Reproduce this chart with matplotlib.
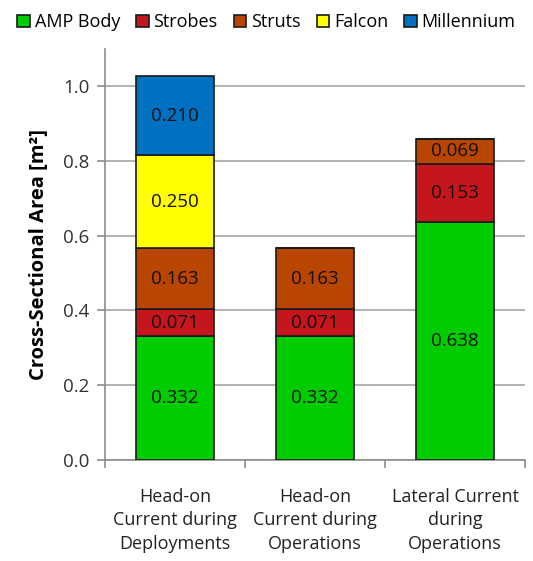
import numpy as np
import matplotlib.pyplot as plt

plt.rcParams['font.family'] = ['Open Sans', 'DejaVu Sans']

categories = ['Head-on\nCurrent during\nDeployments',
              'Head-on\nCurrent during\nOperations',
              'Lateral Current\nduring\nOperations']
components = ['AMP Body', 'Strobes', 'Struts', 'Falcon', 'Millennium']
amp_body = [0.332, 0.332, 0.638]
strobes = [0.071, 0.071, 0.153]
struts = [0.163, 0.163, 0.069]
falcon = [0.250, 0.0, 0.0]
millennium = [0.210, 0.0, 0.0]
colors = ['#00CC00', '#C4161C', '#B84500', '#FFFF00', '#0070C0']

series = [amp_body, strobes, struts, falcon, millennium]

fig = plt.figure(figsize=(5.33, 5.61), dpi=100)
ax = fig.add_axes([0.197, 0.18, 0.788, 0.733])

x = np.arange(len(categories))
bottom = np.zeros(len(categories))
for name, vals, c in zip(components, series, colors):
    vals = np.array(vals)
    ax.bar(x, vals, 0.56, bottom=bottom, color=c, edgecolor='#1a1a1a',
           linewidth=1.2, label=name, zorder=3)
    for xi, v, b in zip(x, vals, bottom):
        if v > 0:
            ax.text(xi, b + v / 2, f'{v:.3f}', ha='center', va='center',
                    fontsize=13.5, color='#111111', zorder=4)
    bottom += vals

ax.set_xlim(-0.5, 2.5)
ax.set_ylim(0, 1.1)
ax.set_yticks(np.arange(0, 1.01, 0.2))
ax.set_yticklabels([f'{v:.1f}' for v in np.arange(0, 1.01, 0.2)])
ax.yaxis.grid(True, color='#a6a6a6', linewidth=1.2, zorder=0)
ax.set_axisbelow(True)

# group separators as major ticks, category names on minor ticks
ax.set_xticks([-0.5, 0.5, 1.5, 2.5])
ax.set_xticklabels([])
ax.set_xticks(x, minor=True)
ax.set_xticklabels(categories, minor=True, fontsize=13, color='#222222',
                   linespacing=1.4)
ax.tick_params(axis='x', which='minor', length=0, pad=20)
ax.tick_params(axis='x', which='major', length=6, color='#8c8c8c', width=1.2)
ax.tick_params(axis='y', length=6, color='#8c8c8c', width=1.2,
               labelsize=13.5, labelcolor='#333333', pad=5)

for s in ['top', 'right']:
    ax.spines[s].set_visible(False)
for s in ['left', 'bottom']:
    ax.spines[s].set_color('#8c8c8c')
    ax.spines[s].set_linewidth(1.2)

ax.set_ylabel('Cross-Sectional Area [m²]', fontsize=14.5, fontweight='bold',
              labelpad=10)

handles, labels = ax.get_legend_handles_labels()
fig.legend(handles, labels, loc='upper center', bbox_to_anchor=(0.5, 1.005),
           ncol=5, frameon=False, fontsize=13, handlelength=0.7,
           handleheight=0.7, handletextpad=0.25, columnspacing=0.9)

fig.savefig('out.png', dpi=100)
